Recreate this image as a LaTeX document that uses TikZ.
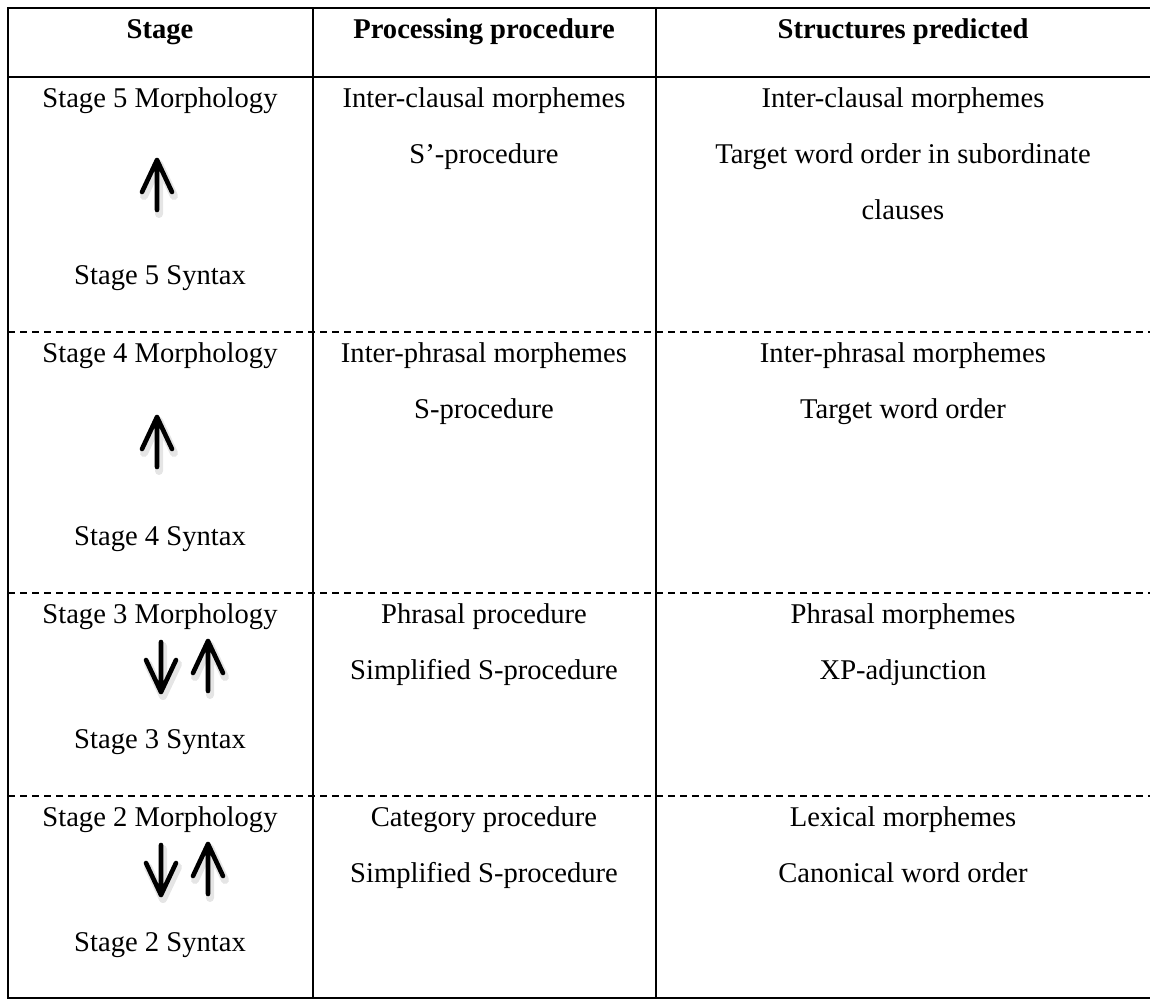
\documentclass[tikz,border=0pt]{standalone}
\usepackage{fontspec}
\setmainfont{Liberation Serif}
\begin{document}
\begin{tikzpicture}[x=1pt,y=-1pt,
  cell/.style={anchor=base, inner sep=0pt, font=\fontsize{28.6}{34}\selectfont},
  head/.style={anchor=base, inner sep=0pt, font=\fontsize{28.6}{34}\selectfont\bfseries},
  rule/.style={line width=2.4pt, line cap=rect},
  rowsep/.style={line width=2pt, dash pattern=on 7pt off 5pt},
  arrowstroke/.style={line width=4.6pt, line cap=round, line join=round},
  arrowshade/.style={line width=8pt, line cap=round, line join=round, black, opacity=0.10},
  pics/uparr/.style={code={
    \draw[arrowshade, xshift=2pt, yshift=-4pt] (0,25) -- (0,-25) (-15,7) -- (0,-25) -- (15,7);
    \draw[arrowstroke] (0,25) -- (0,-25) (-15,7) -- (0,-25) -- (15,7);
  }},
  pics/downarr/.style={code={
    \draw[arrowshade, xshift=2pt, yshift=-4pt] (0,-25) -- (0,25) (-15,-7) -- (0,25) -- (15,-7);
    \draw[arrowstroke] (0,-25) -- (0,25) (-15,-7) -- (0,25) -- (15,-7);
  }}
]
\useasboundingbox (0,0) rectangle (1150,1000);

% grid of the table
\draw[rule] (8,8) -- (1150,8);
\draw[rule] (8,77) -- (1150,77);
\draw[rule] (8,998) -- (1150,998);
\draw[rule] (8,8) -- (8,998);
\draw[rule] (313,8) -- (313,998);
\draw[rule] (656,8) -- (656,998);
\draw[rowsep] (8,332) -- (1150,332);
\draw[rowsep] (8,593) -- (1150,593);
\draw[rowsep] (8,796) -- (1150,796);

% header
\node[head] (h1) at (160,39) {Stage};
\node[head] (h2) at (484,39) {Processing procedure};
\node[head] (h3) at (903,39) {Structures predicted};

% stage 5
\node[cell] (s5m) at (160,108) {Stage 5 Morphology};
\pic at (157,185) {uparr};
\node[cell] (s5s) at (160,284) {Stage 5 Syntax};
\node[cell] (p5a) at (484,108) {Inter-clausal morphemes};
\node[cell] (p5b) at (484,164) {S’-procedure};
\node[cell] (t5a) at (903,108) {Inter-clausal morphemes};
\node[cell] (t5b) at (903,164) {Target word order in subordinate};
\node[cell] (t5c) at (903,220) {clauses};

% stage 4
\node[cell] (s4m) at (160,362) {Stage 4 Morphology};
\pic at (157,442) {uparr};
\node[cell] (s4s) at (160,545) {Stage 4 Syntax};
\node[cell] (p4a) at (484,362) {Inter-phrasal morphemes};
\node[cell] (p4b) at (484,418) {S-procedure};
\node[cell] (t4a) at (903,362) {Inter-phrasal morphemes};
\node[cell] (t4b) at (903,418) {Target word order};

% stage 3
\node[cell] (s3m) at (160,623) {Stage 3 Morphology};
\pic at (161,667) {downarr};
\pic at (208,666) {uparr};
\node[cell] (s3s) at (160,748) {Stage 3 Syntax};
\node[cell] (p3a) at (484,623) {Phrasal procedure};
\node[cell] (p3b) at (484,679) {Simplified S-procedure};
\node[cell] (t3a) at (903,623) {Phrasal morphemes};
\node[cell] (t3b) at (903,679) {XP-adjunction};

% stage 2
\node[cell] (s2m) at (160,826) {Stage 2 Morphology};
\pic at (161,870) {downarr};
\pic at (208,869) {uparr};
\node[cell] (s2s) at (160,951) {Stage 2 Syntax};
\node[cell] (p2a) at (484,826) {Category procedure};
\node[cell] (p2b) at (484,882) {Simplified S-procedure};
\node[cell] (t2a) at (903,826) {Lexical morphemes};
\node[cell] (t2b) at (903,882) {Canonical word order};
\end{tikzpicture}
\end{document}
